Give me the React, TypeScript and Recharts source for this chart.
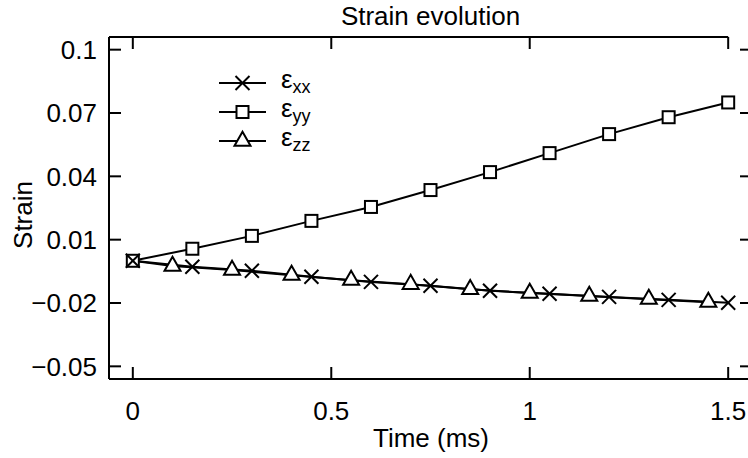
import React from "react";
import { LineChart, Line, XAxis, YAxis, ReferenceLine } from "recharts";

// ---- data ----
const timesXY = [0, 0.15, 0.3, 0.45, 0.6, 0.75, 0.9, 1.05, 1.2, 1.35, 1.5];
const epsXX = [0, -0.0028, -0.0047, -0.0076, -0.01, -0.0118, -0.0142, -0.0156, -0.0171, -0.0185, -0.0199];
const epsYY = [0, 0.0057, 0.0118, 0.0189, 0.0255, 0.0335, 0.042, 0.051, 0.06, 0.068, 0.075];
const timesZZ = [0, 0.1, 0.25, 0.4, 0.55, 0.7, 0.85, 1.0, 1.15, 1.3, 1.45];
const epsZZ = [0, -0.0025, -0.0044, -0.0068, -0.0092, -0.0111, -0.0135, -0.0153, -0.0167, -0.0182, -0.0196];

const xTicks = [0, 0.5, 1, 1.5];
const xTickLabels = ["0", "0.5", "1", "1.5"];
const yTicks = [0.1, 0.07, 0.04, 0.01, -0.02, -0.05];
const yTickLabels = ["0.1", "0.07", "0.04", "0.01", "\u22120.02", "\u22120.05"];

const title = "Strain evolution";
const xLabel = "Time (ms)";
const yLabel = "Strain";
const legendSubs = ["xx", "yy", "zz"];

const xxData = timesXY.map((t, i) => ({ t, v: epsXX[i] }));
const yyData = timesXY.map((t, i) => ({ t, v: epsYY[i] }));
const zzData = timesZZ.map((t, i) => ({ t, v: epsZZ[i] }));

// ---- layout ----
const FONT = "'Liberation Sans', Arial, sans-serif";
const FS = 26;
const PLOT_LEFT = 109;
const PLOT_TOP = 37;
const PLOT_BOTTOM = 379;
const PLOT_RIGHT = 752;
const TICK = 12;
const XDOMAIN: [number, number] = [-0.06, 1.56];
const YDOMAIN: [number, number] = [-0.056, 0.106];
const SW = 2;

const Cross = ({ cx, cy, s = 7 }: any) => (
  <g stroke="#000" strokeWidth={SW} fill="none">
    <line x1={cx - s} y1={cy - s} x2={cx + s} y2={cy + s} />
    <line x1={cx - s} y1={cy + s} x2={cx + s} y2={cy - s} />
  </g>
);
const Square = ({ cx, cy, s = 6 }: any) => (
  <rect x={cx - s} y={cy - s} width={2 * s} height={2 * s} fill="#fff" stroke="#000" strokeWidth={SW} />
);
const Triangle = ({ cx, cy, w = 8, h = 14 }: any) => (
  <polygon
    points={`${cx},${cy - (2 * h) / 3} ${cx - w},${cy + h / 3} ${cx + w},${cy + h / 3}`}
    fill="#fff"
    stroke="#000"
    strokeWidth={SW}
  />
);

const CrossDot = (p: any) => (p.cx == null ? <g key={p.key} /> : <Cross key={p.key} cx={p.cx} cy={p.cy} />);
const SquareDot = (p: any) => (p.cx == null ? <g key={p.key} /> : <Square key={p.key} cx={p.cx} cy={p.cy} />);
const TriDot = (p: any) =>
  p.cx == null || p.index === 0 ? <g key={p.key} /> : <Triangle key={p.key} cx={p.cx} cy={p.cy} />;

const BottomTick = (p: any) => {
  const i = xTicks.indexOf(p.payload.value);
  return (
    <g>
      <line x1={p.x} x2={p.x} y1={PLOT_BOTTOM} y2={PLOT_BOTTOM - TICK} stroke="#000" strokeWidth={2} />
      <text x={p.x} y={420} textAnchor="middle" fontSize={FS} fontFamily={FONT} fill="#000">
        {xTickLabels[i]}
      </text>
    </g>
  );
};
const TopTick = (p: any) => (
  <line x1={p.x} x2={p.x} y1={PLOT_TOP} y2={PLOT_TOP + TICK} stroke="#000" strokeWidth={2} />
);
const LeftTick = (p: any) => {
  const i = yTicks.indexOf(p.payload.value);
  return (
    <g>
      <line x1={PLOT_LEFT} x2={PLOT_LEFT + TICK} y1={p.y} y2={p.y} stroke="#000" strokeWidth={2} />
      <text x={97} y={p.y} dy="0.36em" textAnchor="end" fontSize={FS} fontFamily={FONT} fill="#000">
        {yTickLabels[i]}
      </text>
    </g>
  );
};
const RightTick = (p: any) => (
  <line x1={PLOT_RIGHT} x2={PLOT_RIGHT - TICK} y1={p.y} y2={p.y} stroke="#000" strokeWidth={2} />
);

const legendMarkers = [Cross, Square, Triangle];

export default function App() {
  return (
    <div style={{ position: "relative", width: 748, height: 458, overflow: "hidden", background: "#fff" }}>
      <style>{`body{margin:0;}`}</style>
      <LineChart width={760} height={458} margin={{ top: 36, right: 7, bottom: 39, left: 49 }}>
        <XAxis
          dataKey="t"
          type="number"
          domain={XDOMAIN}
          allowDataOverflow
          ticks={xTicks}
          interval={0}
          height={40}
          axisLine={{ stroke: "#000", strokeWidth: 2 }}
          tickLine={false}
          tick={BottomTick}
        />
        <XAxis
          xAxisId="top"
          orientation="top"
          dataKey="t"
          type="number"
          domain={XDOMAIN}
          allowDataOverflow
          ticks={xTicks}
          interval={0}
          height={1}
          axisLine={false}
          tickLine={false}
          tick={TopTick}
        />
        <YAxis
          type="number"
          domain={YDOMAIN}
          allowDataOverflow
          ticks={yTicks}
          interval={0}
          width={60}
          axisLine={{ stroke: "#000", strokeWidth: 2 }}
          tickLine={false}
          tick={LeftTick}
        />
        <YAxis
          yAxisId="right"
          orientation="right"
          type="number"
          domain={YDOMAIN}
          allowDataOverflow
          ticks={yTicks}
          interval={0}
          width={1}
          axisLine={false}
          tickLine={false}
          tick={RightTick}
        />
        <ReferenceLine
          segment={[
            { x: XDOMAIN[0], y: YDOMAIN[1] },
            { x: xTicks[xTicks.length - 1], y: YDOMAIN[1] },
          ]}
          stroke="#000"
          strokeWidth={2}
          ifOverflow="visible"
        />
        <Line data={yyData} dataKey="v" stroke="#000" strokeWidth={SW} dot={SquareDot} isAnimationActive={false} />
        <Line data={zzData} dataKey="v" stroke="#000" strokeWidth={SW} dot={TriDot} isAnimationActive={false} />
        <Line data={xxData} dataKey="v" stroke="#000" strokeWidth={SW} dot={CrossDot} isAnimationActive={false} />
      </LineChart>
      <svg
        width={748}
        height={458}
        style={{ position: "absolute", left: 0, top: 0, pointerEvents: "none" }}
        fontFamily={FONT}
      >
        <text x={430.5} y={25} textAnchor="middle" fontSize={FS} fill="#000">
          {title}
        </text>
        <text x={431} y={447} textAnchor="middle" fontSize={FS} fill="#000">
          {xLabel}
        </text>
        <text
          x={0}
          y={0}
          transform="translate(32,215) rotate(-90)"
          textAnchor="middle"
          fontSize={FS}
          fill="#000"
        >
          {yLabel}
        </text>
        {legendSubs.map((s, i) => {
          const y = 83 + i * 29;
          const M = legendMarkers[i];
          return (
            <g key={s}>
              <line x1={219} x2={266} y1={y} y2={y} stroke="#000" strokeWidth={SW} />
              <M cx={242.5} cy={y} />
              <text x={281} y={y + 5} fontSize={FS} fill="#000">
                {"\u03b5"}
                <tspan fontSize={18} dy={5}>
                  {s}
                </tspan>
              </text>
            </g>
          );
        })}
      </svg>
    </div>
  );
}
